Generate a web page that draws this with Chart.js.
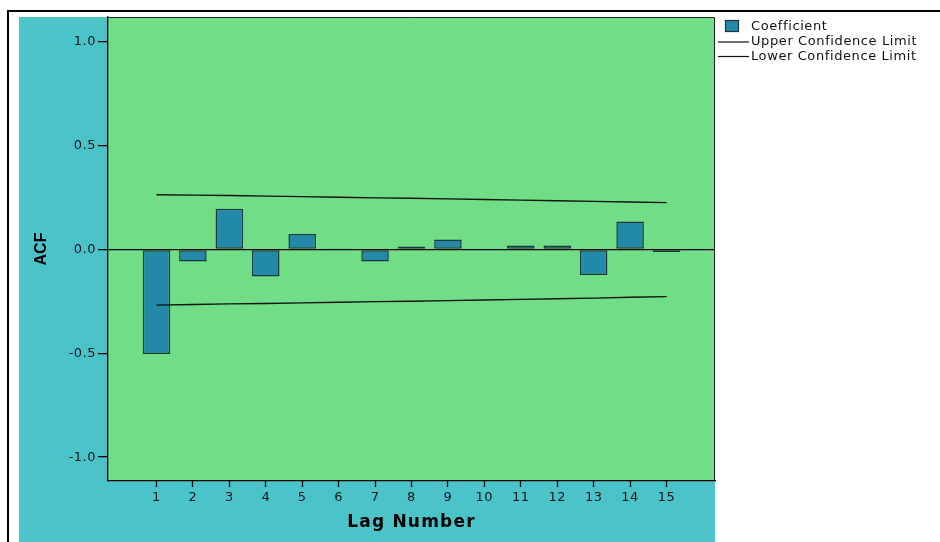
<!DOCTYPE html>
<html><head><meta charset="utf-8">
<script src="https://cdn.jsdelivr.net/npm/chart.js@4/dist/chart.umd.min.js"></script>
<style>html,body{margin:0;padding:0;background:#fff;overflow:hidden}canvas{display:block}</style>
</head><body>
<canvas id="c" width="940" height="542"></canvas>
<script>
const lags = [1,2,3,4,5,6,7,8,9,10,11,12,13,14,15];
const coefficients = [-0.503,-0.058,0.196,-0.130,0.075,0.002,-0.058,0.014,0.048,-0.004,0.019,0.019,-0.123,0.135,-0.012];
const upperLimit = [0.264,0.262,0.260,0.257,0.255,0.252,0.249,0.247,0.244,0.241,0.238,0.235,0.232,0.229,0.226];
const lowerLimit = [-0.268,-0.265,-0.262,-0.260,-0.257,-0.254,-0.251,-0.249,-0.246,-0.243,-0.240,-0.237,-0.234,-0.230,-0.227];
const yTickValues = [-1.0,-0.5,0.0,0.5,1.0];
const seriesNames = ['Coefficient','Upper Confidence Limit','Lower Confidence Limit'];
const xTitle = 'Lag Number';
const yTitle = 'ACF';

const GREEN = '#71dd86', TEAL = '#4ac3c9', BAR = '#2389a9', BAR_EDGE = '#1b363d';
const FONT = '"DejaVu Sans", Verdana, sans-serif';

function patchTitle(scale, spacing){
  scale._titleSpacing = spacing;
  if (scale._nsPatched) return;
  const orig = scale.drawTitle;
  scale.drawTitle = function(){
    const c = this.ctx; const prev = c.letterSpacing;
    c.letterSpacing = this._titleSpacing || '0px';
    orig.apply(this, arguments);
    c.letterSpacing = prev;
  };
  scale._nsPatched = true;
}

const framePlugin = {
  id: 'frame',
  beforeDraw(chart){
    const ctx = chart.ctx, a = chart.chartArea;
    ctx.save();
    ctx.fillStyle = '#fff'; ctx.fillRect(0,0,chart.width,chart.height);
    ctx.fillStyle = '#000';
    ctx.fillRect(7,10,chart.width-7,2);
    ctx.fillRect(7,10,2,chart.height-10);
    ctx.fillStyle = TEAL; ctx.fillRect(19,17,a.right-19,chart.height-17);
    ctx.fillStyle = GREEN; ctx.fillRect(a.left,a.top,a.right-a.left,a.bottom-a.top);
    ctx.restore();
    ctx.letterSpacing = '0.5px';
  },
  afterDraw(chart){
    const ctx = chart.ctx, a = chart.chartArea;
    ctx.save();
    ctx.letterSpacing = '0px';
    ctx.strokeStyle = '#222'; ctx.lineWidth = 1;
    ctx.beginPath();
    ctx.moveTo(a.left, a.top+0.5); ctx.lineTo(a.right-0.5, a.top+0.5); ctx.lineTo(a.right-0.5, a.bottom);
    ctx.stroke();
    // legend
    ctx.fillStyle = BAR; ctx.fillRect(725.5,20.5,13,11);
    ctx.strokeStyle = BAR_EDGE; ctx.lineWidth = 1.2; ctx.strokeRect(725.5,20.5,13,11);
    ctx.strokeStyle = '#111'; ctx.lineWidth = 1.2;
    ctx.beginPath(); ctx.moveTo(718,42); ctx.lineTo(749,42); ctx.stroke();
    ctx.beginPath(); ctx.moveTo(718,56.5); ctx.lineTo(749,56.5); ctx.stroke();
    ctx.letterSpacing = '0.6px';
    ctx.font = '13px ' + FONT;
    ctx.fillStyle = '#111'; ctx.textBaseline = 'middle'; ctx.textAlign = 'left';
    ctx.fillText(seriesNames[0], 751, 26.5);
    ctx.fillText(seriesNames[1], 751, 42);
    ctx.fillText(seriesNames[2], 751, 57);
    ctx.restore();
  }
};

new Chart(document.getElementById('c'), {
  type: 'bar',
  data: {
    datasets: [
      { type:'line', label: seriesNames[1], data: lags.map((l,i)=>({x:l,y:upperLimit[i]})),
        borderColor:'#111', borderWidth:1.4, pointRadius:0, fill:false, tension:0, order:0 },
      { type:'line', label: seriesNames[2], data: lags.map((l,i)=>({x:l,y:lowerLimit[i]})),
        borderColor:'#111', borderWidth:1.4, pointRadius:0, fill:false, tension:0, order:0 },
      { type:'bar', label: seriesNames[0], data: lags.map((l,i)=>({x:l,y:coefficients[i]})),
        backgroundColor: BAR, borderColor: BAR_EDGE, borderWidth: 1.5, borderSkipped: false,
        categoryPercentage: 1, barPercentage: 0.755, order:1 }
    ]
  },
  options: {
    responsive:false, animation:false, events:[],
    layout:{ padding:{ left:0, top:17, right:225, bottom:0 } },
    plugins:{ legend:{display:false}, tooltip:{enabled:false} },
    scales:{
      x:{ type:'linear', min:-0.33, max:16.33, offset:false,
        afterBuildTicks(s){ s.ticks = lags.map(v=>({value:v})); },
        afterFit(s){ s.height = 61; patchTitle(s, '1.2px'); },
        grid:{ offset:false, drawOnChartArea:false, drawTicks:true, tickLength:6, tickColor:'#000', tickWidth:1.3 },
        border:{ display:true, color:'#000', width:1.3 },
        ticks:{ autoSkip:false, maxRotation:0, padding:3, color:'#151515',
          font:{ family:FONT, size:13 },
          callback:v=>String(v) },
        title:{ display:true, text:xTitle, color:'#000', padding:{top:0,bottom:9},
          font:{ family:FONT, size:17, weight:'bold' } }
      },
      y:{ type:'linear', min:-1.115, max:1.12,
        afterBuildTicks(s){ s.ticks = yTickValues.map(v=>({value:v})); },
        afterFit(s){ s.width = 108; patchTitle(s, '0px'); },
        grid:{ drawOnChartArea:true, drawTicks:true, tickLength:10, tickColor:'#000', tickWidth:1.3,
          color:c=> (c.tick && c.tick.value===0) ? '#000' : 'rgba(0,0,0,0)', lineWidth:1.3 },
        border:{ display:true, color:'#000', width:1.3 },
        ticks:{ padding:2, color:'#151515',
          font:{ family:FONT, size:13 },
          callback:v=>Number(v).toFixed(1) },
        title:{ display:true, text:yTitle, color:'#000', padding:{top:32,bottom:0},
          font:{ family:'"Liberation Sans", Arial, sans-serif', size:16, weight:'bold' } }
      }
    }
  },
  plugins:[framePlugin]
});
</script>
</body></html>
